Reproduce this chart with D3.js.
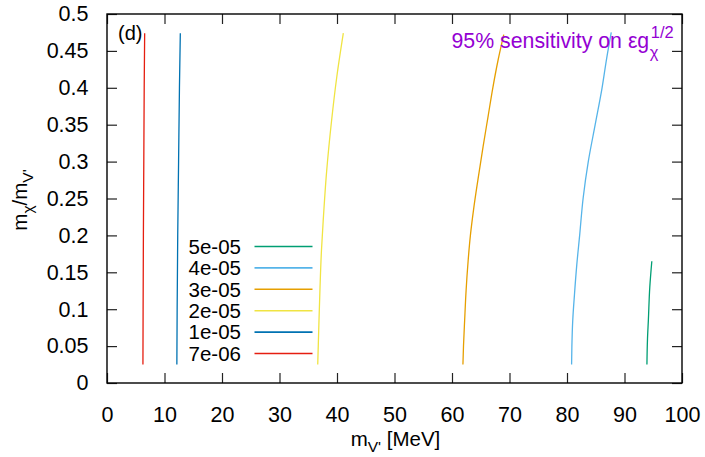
<!DOCTYPE html>
<html>
<head>
<meta charset="utf-8">
<script src="https://cdn.jsdelivr.net/npm/d3@7"></script>
<style>
  html, body { margin: 0; padding: 0; background: #fff; }
  svg { display: block; font-family: "Liberation Sans", Arial, Helvetica, sans-serif; }
</style>
</head>
<body>
<svg id="chart" width="705" height="457"></svg>
<script>
// Contour levels of the 95% sensitivity on eps*g_chi^(1/2), drawn as m_chi/m_V' vs m_V'
const levelLabels = ["5e-05", "4e-05", "3e-05", "2e-05", "1e-05", "7e-06"];
const levelColors = ["#009e73", "#56b4e9", "#e69f00", "#f0e442", "#0072b2", "#e51e10"];

// Each contour: [m_V' (MeV), m_chi/m_V']
const contour5e5 = [[93.9, 0.025], [94.0, 0.06], [94.15, 0.085], [94.4, 0.13], [94.75, 0.165]];
const contour4e5 = [[80.8, 0.025], [80.85, 0.05], [81.0, 0.085], [81.3, 0.12], [81.7, 0.16],
                    [82.2, 0.2], [82.8, 0.25], [83.7, 0.3], [84.9, 0.35], [86.1, 0.4],
                    [86.9, 0.44], [87.7, 0.475]];
const contour3e5 = [[61.9, 0.025], [62.0, 0.05], [62.2, 0.085], [62.45, 0.125], [62.8, 0.165],
                    [63.2, 0.2], [63.75, 0.235], [64.5, 0.275], [65.4, 0.32], [66.25, 0.36],
                    [67.1, 0.4], [68.0, 0.437], [69.0, 0.472]];
const contour2e5 = [[36.65, 0.025], [36.85, 0.08], [37.05, 0.13], [37.3, 0.18], [37.6, 0.22],
                    [38.2, 0.287], [39.05, 0.355], [39.95, 0.414], [41.1, 0.474]];
const contour1e5 = [[12.15, 0.025], [12.2, 0.1], [12.3, 0.2], [12.45, 0.3], [12.6, 0.4], [12.75, 0.474]];
const contour7e6 = [[6.25, 0.025], [6.28, 0.1], [6.33, 0.2], [6.4, 0.3], [6.47, 0.4], [6.55, 0.474]];
const contours = [contour5e5, contour4e5, contour3e5, contour2e5, contour1e5, contour7e6];

const xTicks = [0, 10, 20, 30, 40, 50, 60, 70, 80, 90, 100];
const yTicks = [0, 0.05, 0.1, 0.15, 0.2, 0.25, 0.3, 0.35, 0.4, 0.45, 0.5];

const svg = d3.select("#chart");
const plotL = 107, plotR = 682, plotT = 14, plotB = 383;

const x = d3.scaleLinear().domain([0, 100]).range([plotL, plotR]);
const y = d3.scaleLinear().domain([0, 0.5]).range([plotB, plotT]);

const tickFont = "21.5px";

// Axes with inward ticks, mirrored on top and right
const gx = svg.append("g").attr("transform", `translate(0,${plotB})`)
  .call(d3.axisBottom(x).tickValues(xTicks).tickFormat(d3.format("d")).tickSize(-10).tickPadding(23.5));
const gy = svg.append("g").attr("transform", `translate(${plotL},0)`)
  .call(d3.axisLeft(y).tickValues(yTicks).tickFormat(d => d === 0 ? "0" : String(+d.toFixed(2))).tickSize(-10).tickPadding(18.5));
const gx2 = svg.append("g").attr("transform", `translate(0,${plotT})`)
  .call(d3.axisTop(x).tickValues(xTicks).tickFormat("").tickSize(-10));
const gy2 = svg.append("g").attr("transform", `translate(${plotR},0)`)
  .call(d3.axisRight(y).tickValues(yTicks).tickFormat("").tickSize(-10));

[gx, gy, gx2, gy2].forEach(g => {
  g.select(".domain").remove();
  g.selectAll(".tick line").attr("stroke", "#222").attr("stroke-width", 1.2);
  g.selectAll(".tick text").attr("fill", "#000").style("font-size", tickFont)
    .style("font-family", "'Liberation Sans', Arial, sans-serif");
});

// Curves
const line = d3.line().x(d => x(d[0])).y(d => y(d[1])).curve(d3.curveMonotoneY);
svg.append("g").selectAll("path").data(contours).join("path")
  .attr("d", line)
  .attr("fill", "none")
  .attr("stroke", (d, i) => levelColors[i])
  .attr("stroke-width", 1.3);

// Frame
svg.append("rect")
  .attr("x", plotL).attr("y", plotT)
  .attr("width", plotR - plotL).attr("height", plotB - plotT)
  .attr("fill", "none").attr("stroke", "#000").attr("stroke-width", 1.4);

// Legend
const legend = svg.append("g");
const legendRow = d3.scaleLinear().domain([0, levelLabels.length - 1]).range([246.5, 353.5]);
levelLabels.forEach((lab, i) => {
  const yy = legendRow(i);
  legend.append("text")
    .attr("x", 241).attr("y", yy).attr("dy", "0.36em")
    .attr("text-anchor", "end").style("font-size", "20.5px").attr("fill", "#000")
    .text(lab);
  legend.append("line")
    .attr("x1", 254.5).attr("x2", 312.5).attr("y1", yy).attr("y2", yy)
    .attr("stroke", levelColors[i]).attr("stroke-width", 1.6);
});

// Panel tag
svg.append("text").attr("x", 118).attr("y", 39.5).style("font-size", "20px").attr("fill", "#000").text("(d)");

// Sensitivity title with sub/superscript
const title = svg.append("text").attr("x", 451.5).attr("y", 47.5).style("font-size", "21.3px").attr("fill", "#9400d3");
title.append("tspan").text("95% sensitivity on εg");
const titleEnd = title.node().getComputedTextLength() + 451.5;
svg.append("text").attr("x", titleEnd + 0.5).attr("y", 58).style("font-size", "16.5px").attr("fill", "#9400d3").text("χ");
svg.append("text").attr("x", titleEnd + 1.5).attr("y", 38).style("font-size", "16.5px").attr("fill", "#9400d3").text("1/2");

// X axis label: m_V' [MeV]
const xlab = svg.append("text").attr("y", 446).style("font-size", "20.5px").attr("fill", "#000");
xlab.append("tspan").text("m");
xlab.append("tspan").attr("dy", 6).style("font-size", "15.5px").text("V'");
xlab.append("tspan").attr("dy", -6).text(" [MeV]");
const xw = xlab.node().getComputedTextLength();
xlab.attr("x", 395.5 - xw / 2);

// Y axis label: m_chi/m_V'
const ylab = svg.append("text").attr("transform", "translate(27,200) rotate(-90)")
  .style("font-size", "20.5px").attr("fill", "#000");
ylab.append("tspan").text("m");
ylab.append("tspan").attr("dy", 6).style("font-size", "15.5px").text("χ");
ylab.append("tspan").attr("dy", -6).text("/m");
ylab.append("tspan").attr("dy", 6).style("font-size", "15.5px").text("V'");
const yw = ylab.node().getComputedTextLength();
ylab.attr("x", -yw / 2);
</script>
</body>
</html>
